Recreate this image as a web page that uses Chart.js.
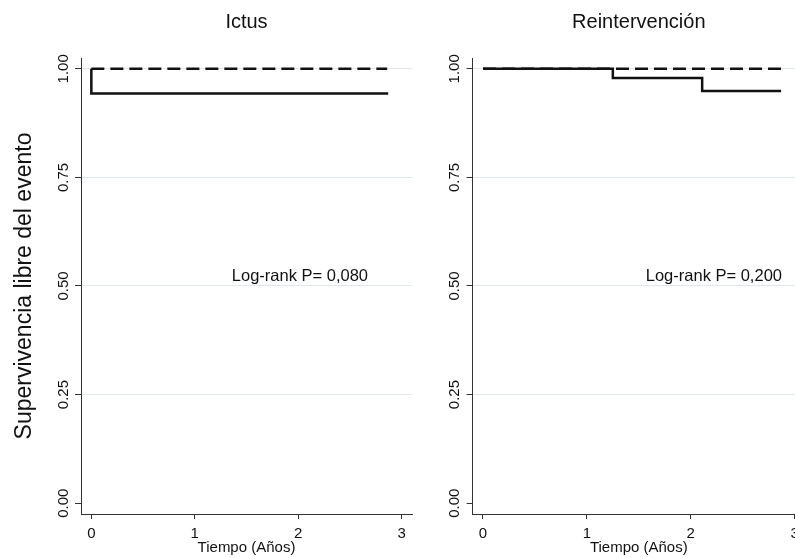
<!DOCTYPE html>
<html>
<head>
<meta charset="utf-8">
<script src="https://cdn.jsdelivr.net/npm/chart.js@4"></script>
<style>
  html, body { margin: 0; padding: 0; background: #fff; overflow: hidden; width: 795px; height: 558px; }
  canvas { position: absolute; top: 0; }
  #chartIctus { left: 0; }
  #chartReint { left: 420px; }
</style>
</head>
<body>
<canvas id="chartIctus" width="420" height="558"></canvas>
<canvas id="chartReint" width="393" height="558"></canvas>
<script>
// Curvas de Kaplan-Meier: grupo con evento (línea continua) y referencia (discontinua).
const ICTUS_TIME_SOLID = [0, 0, 2.87];
const ICTUS_SURV_SOLID = [1, 0.943, 0.943];
const ICTUS_TIME_DASH = [0, 2.86];
const ICTUS_SURV_DASH = [1, 1];

const REINT_TIME_SOLID = [0, 1.25, 2.11, 2.87];
const REINT_SURV_SOLID = [1, 0.979, 0.949, 0.949];
const REINT_TIME_DASH = [0, 2.89];
const REINT_SURV_DASH = [1, 1];

const X_TICKS = [0, 1, 2, 3];
const Y_TICKS = [0, 0.25, 0.5, 0.75, 1];
const PANEL_TITLES = ['Ictus', 'Reintervención'];
const LOGRANK_TEXT = ['Log-rank P= 0,080', 'Log-rank P= 0,200'];
const X_TITLE = 'Tiempo (Años)';
const Y_TITLE = 'Supervivencia libre del evento';

const FONT = '"Liberation Sans", Arial, Helvetica, sans-serif';
const GRID_COLOR = '#dce8ee';
const AXIS_COLOR = '#333';
Chart.defaults.font.family = FONT;
Chart.defaults.color = '#111';

const toPoints = (xs, ys) => xs.map((x, i) => ({ x, y: ys[i] }));

// Texto del log-rank en coordenadas de datos.
const logrankLabel = {
  id: 'logrankLabel',
  afterDatasetsDraw(chart, args, opts) {
    const { ctx, scales: { x, y } } = chart;
    ctx.save();
    ctx.font = '16.5px ' + FONT;
    ctx.fillStyle = '#111';
    ctx.textAlign = 'left';
    ctx.textBaseline = 'middle';
    ctx.fillText(opts.text, x.getPixelForValue(opts.x), y.getPixelForValue(opts.y));
    ctx.restore();
  }
};

function makePanel(id, title, solid, dashed, logrank, yWidth, showYTitle) {
  return new Chart(document.getElementById(id), {
    type: 'line',
    data: {
      datasets: [
        { data: dashed, borderColor: '#111', borderWidth: 2.5, borderDash: [13, 6], pointRadius: 0, stepped: 'before', fill: false },
        { data: solid, borderColor: '#111', borderWidth: 2.5, pointRadius: 0, stepped: 'before', fill: false },
      ],
    },
    options: {
      responsive: false, animation: false,
      layout: { padding: { right: 8 } },
      plugins: {
        legend: { display: false },
        tooltip: { enabled: false },
        title: {
          display: true, text: title, fullSize: false,
          font: { size: 20, weight: 'normal' }, color: '#111',
          padding: { top: 10, bottom: 24 },
        },
        logrankLabel: logrank,
      },
      scales: {
        x: {
          type: 'linear', min: -0.1, max: 3.1,
          afterBuildTicks: s => { s.ticks = X_TICKS.map(v => ({ value: v })); },
          afterFit: s => { s.height = 44; },
          ticks: { font: { size: 15 }, color: '#111', padding: 6, callback: v => String(v) },
          grid: { drawOnChartArea: false, tickLength: 5, tickColor: AXIS_COLOR },
          border: { color: AXIS_COLOR, width: 1 },
          title: { display: true, text: X_TITLE, font: { size: 15 }, color: '#111', padding: { top: 0, bottom: 1 } },
        },
        y: {
          type: 'linear', min: -0.025, max: 1.025,
          afterBuildTicks: s => { s.ticks = Y_TICKS.map(v => ({ value: v })); },
          afterFit: s => { s.width = yWidth; },
          ticks: {
            font: { size: 15 }, color: '#111', minRotation: 90,
            crossAlign: 'center', padding: -3, callback: v => v.toFixed(2),
          },
          grid: {
            color: c => (c.tick && c.tick.value === 0) ? 'rgba(0,0,0,0)' : GRID_COLOR,
            tickLength: 6, tickColor: AXIS_COLOR,
          },
          border: { color: AXIS_COLOR, width: 1 },
          title: { display: showYTitle, text: Y_TITLE, font: { size: 23 }, color: '#111', padding: { top: 11 } },
        },
      },
    },
    plugins: [logrankLabel],
  });
}

makePanel('chartIctus', PANEL_TITLES[0],
  toPoints(ICTUS_TIME_SOLID, ICTUS_SURV_SOLID),
  toPoints(ICTUS_TIME_DASH, ICTUS_SURV_DASH),
  { text: LOGRANK_TEXT[0], x: 1.358, y: 0.521 }, 81, true);

makePanel('chartReint', PANEL_TITLES[1],
  toPoints(REINT_TIME_SOLID, REINT_SURV_SOLID),
  toPoints(REINT_TIME_DASH, REINT_SURV_DASH),
  { text: LOGRANK_TEXT[1], x: 1.567, y: 0.521 }, 52.6, false);
</script>
</body>
</html>
